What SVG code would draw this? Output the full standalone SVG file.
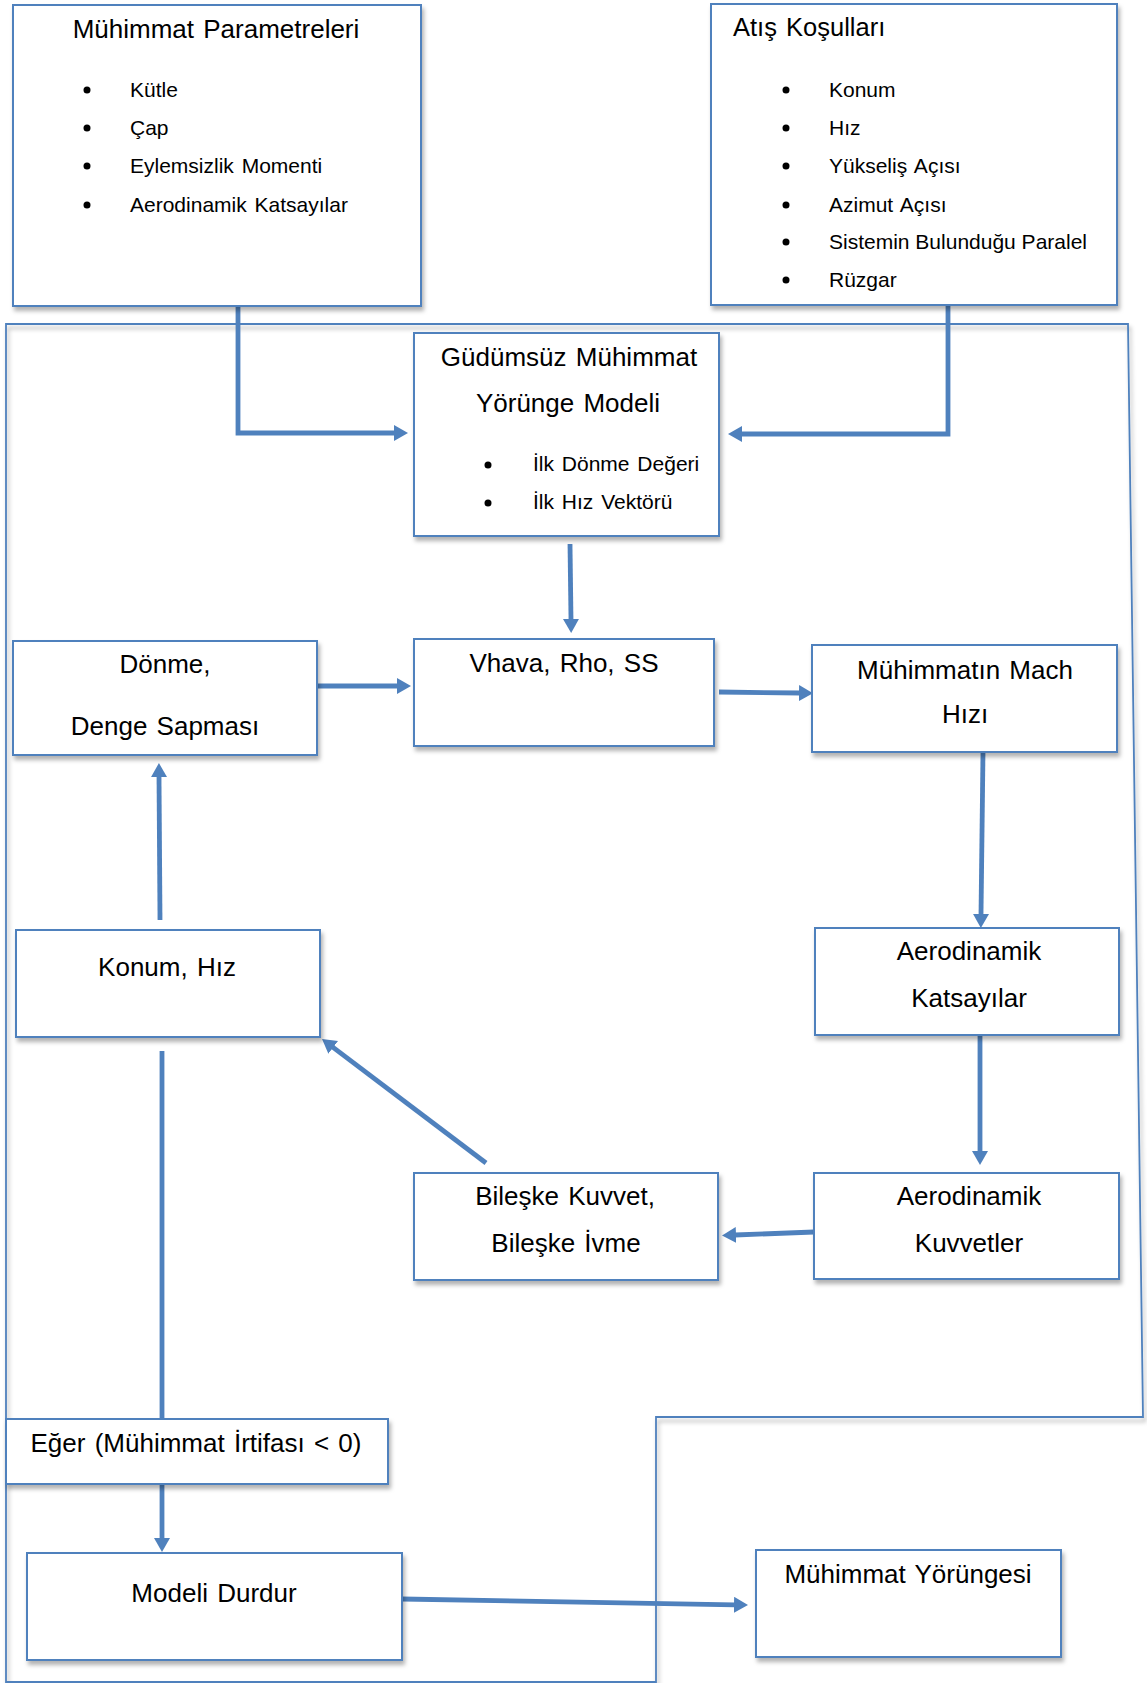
<svg xmlns="http://www.w3.org/2000/svg" width="1147" height="1683" viewBox="0 0 1147 1683">
  <defs>
    <filter id="shadow" x="-5%" y="-5%" width="115%" height="120%">
      <feDropShadow dx="2" dy="4" stdDeviation="2" flood-color="#000" flood-opacity="0.3"/>
    </filter>
    <marker id="arrow" markerUnits="userSpaceOnUse" markerWidth="15" markerHeight="17" refX="1" refY="8" orient="auto">
      <path d="M0,0 L14,8 L0,16 Z" fill="#4F81BD"/>
    </marker>
    <style>
      .box { fill: #fff; stroke: #4F81BD; stroke-width: 2; filter: url(#shadow); }
      .frame { fill: none; stroke: #4F81BD; stroke-width: 1.8; filter: url(#shadow); }
      .conn { fill: none; stroke: #4F81BD; stroke-width: 4.8; }
      .arr { marker-end: url(#arrow); }
      text { font-family: "Liberation Sans", Arial, sans-serif; fill: #000; }
      .lbl { font-size: 26px; text-anchor: middle; word-spacing: 2px; }
      .ttl { font-size: 25.5px; word-spacing: 2px; }
      .item { font-size: 21px; word-spacing: 2px; }
      .dot { fill: #000; }
    </style>
  </defs>

  <!-- outer model boundary -->
  <path class="frame" d="M6,324 H1128 L1143,1417 H656 V1682 H6 Z"/>

  <!-- connectors -->
  <g id="connectors">
    <path class="conn arr" d="M238,306 V433 H395"/>
    <path class="conn arr" d="M948,305 V434 H741"/>
    <path class="conn arr" d="M570,544 L571,620"/>
    <path class="conn arr" d="M317,686 L398,686"/>
    <path class="conn arr" d="M719,692 L800,693"/>
    <path class="conn arr" d="M983,752 L981,915"/>
    <path class="conn arr" d="M980,1036 L980,1152"/>
    <path class="conn arr" d="M814,1232 L735,1235"/>
    <path class="conn arr" d="M486,1163 L332.4,1046.8"/>
    <path class="conn arr" d="M160,920 L159,776"/>
    <path class="conn" d="M162,1051 V1419"/>
    <path class="conn arr" d="M162,1484 V1539"/>
    <path class="conn arr" d="M402,1599 L735,1604.8"/>
  </g>

  <!-- munition parameters -->
  <g id="muhimmat-parametreleri">
    <rect class="box" x="13" y="5" width="408" height="301"/>
    <text class="lbl" x="216" y="38">Mühimmat Parametreleri</text>
    <circle class="dot" cx="87" cy="90" r="3.5"/>
    <text class="item" x="130" y="97">Kütle</text>
    <circle class="dot" cx="87" cy="128" r="3.5"/>
    <text class="item" x="130" y="135">Çap</text>
    <circle class="dot" cx="87" cy="166" r="3.5"/>
    <text class="item" x="130" y="173">Eylemsizlik Momenti</text>
    <circle class="dot" cx="87" cy="205" r="3.5"/>
    <text class="item" x="130" y="212">Aerodinamik Katsayılar</text>
  </g>

  <!-- firing conditions -->
  <g id="atis-kosullari">
    <rect class="box" x="711" y="4" width="406" height="301"/>
    <text class="ttl" x="733" y="36">Atış Koşulları</text>
    <circle class="dot" cx="786" cy="90" r="3.5"/>
    <text class="item" x="829" y="97">Konum</text>
    <circle class="dot" cx="786" cy="128" r="3.5"/>
    <text class="item" x="829" y="135">Hız</text>
    <circle class="dot" cx="786" cy="166" r="3.5"/>
    <text class="item" x="829" y="173">Yükseliş Açısı</text>
    <circle class="dot" cx="786" cy="205" r="3.5"/>
    <text class="item" x="829" y="212">Azimut Açısı</text>
    <circle class="dot" cx="786" cy="242" r="3.5"/>
    <text class="item" x="829" y="249" style="word-spacing:0">Sistemin Bulunduğu Paralel</text>
    <circle class="dot" cx="786" cy="280" r="3.5"/>
    <text class="item" x="829" y="287">Rüzgar</text>
  </g>

  <!-- trajectory model -->
  <g id="yorunge-modeli">
    <rect class="box" x="414" y="333" width="305" height="203"/>
    <text class="lbl" x="569" y="366">Güdümsüz Mühimmat</text>
    <text class="lbl" x="568" y="412">Yörünge Modeli</text>
    <circle class="dot" cx="488" cy="465" r="3.5"/>
    <text class="item" x="533" y="471">İlk Dönme Değeri</text>
    <circle class="dot" cx="488" cy="503" r="3.5"/>
    <text class="item" x="533" y="509">İlk Hız Vektörü</text>
  </g>

  <g id="donme">
    <rect class="box" x="13" y="641" width="304" height="114"/>
    <text class="lbl" x="165" y="673">Dönme,</text>
    <text class="lbl" x="165" y="735">Denge Sapması</text>
  </g>

  <g id="vhava">
    <rect class="box" x="414" y="639" width="300" height="107"/>
    <text class="lbl" x="564" y="672">Vhava, Rho, SS</text>
  </g>

  <g id="mach">
    <rect class="box" x="812" y="645" width="305" height="107"/>
    <text class="lbl" x="965" y="679">Mühimmatın Mach</text>
    <text class="lbl" x="965" y="723">Hızı</text>
  </g>

  <g id="aero-katsayilar">
    <rect class="box" x="815" y="928" width="304" height="107"/>
    <text class="lbl" x="969" y="960">Aerodinamik</text>
    <text class="lbl" x="969" y="1007">Katsayılar</text>
  </g>

  <g id="konum-hiz">
    <rect class="box" x="16" y="930" width="304" height="107"/>
    <text class="lbl" x="167" y="976">Konum, Hız</text>
  </g>

  <g id="bileske">
    <rect class="box" x="414" y="1173" width="304" height="107"/>
    <text class="lbl" x="565" y="1205">Bileşke Kuvvet,</text>
    <text class="lbl" x="566" y="1252">Bileşke İvme</text>
  </g>

  <g id="aero-kuvvetler">
    <rect class="box" x="814" y="1173" width="305" height="106"/>
    <text class="lbl" x="969" y="1205">Aerodinamik</text>
    <text class="lbl" x="969" y="1252">Kuvvetler</text>
  </g>

  <g id="eger">
    <rect class="box" x="6" y="1419" width="382" height="65"/>
    <text class="lbl" x="196" y="1452">Eğer (Mühimmat İrtifası &lt; 0)</text>
  </g>

  <g id="modeli-durdur">
    <rect class="box" x="27" y="1553" width="375" height="107"/>
    <text class="lbl" x="214" y="1602">Modeli Durdur</text>
  </g>

  <g id="muhimmat-yorungesi">
    <rect class="box" x="756" y="1550" width="305" height="107"/>
    <text class="lbl" x="908" y="1583">Mühimmat Yörüngesi</text>
  </g>
</svg>
